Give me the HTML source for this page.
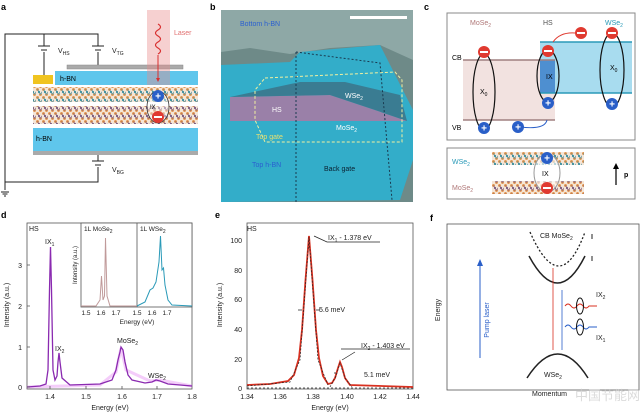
<!DOCTYPE html>
<html><head><meta charset="utf-8"><style>
html,body{margin:0;padding:0;background:#fff;}
svg{display:block;font-family:"Liberation Sans",sans-serif;}
</style></head><body>
<svg width="640" height="414" viewBox="0 0 640 414" xmlns="http://www.w3.org/2000/svg">
<defs>
<pattern id="lat" width="6" height="8" patternUnits="userSpaceOnUse">
<rect width="6" height="8" fill="#f4e6d8"/>
<circle cx="1.5" cy="1.5" r="1.4" fill="#e08a3c"/><circle cx="4.5" cy="6.5" r="1.4" fill="#e08a3c"/>
<path d="M1.5 1.5 L4.5 6.5 M4.5 6.5 L7.5 1.5" stroke="#5a9aa8" stroke-width="0.8"/>
<circle cx="3" cy="4" r="1.1" fill="#3a8fa0"/>
</pattern>
<pattern id="lat2" width="6" height="8" patternUnits="userSpaceOnUse">
<rect width="6" height="8" fill="#f4e6d8"/>
<circle cx="1.5" cy="1.5" r="1.4" fill="#e08a3c"/><circle cx="4.5" cy="6.5" r="1.4" fill="#e08a3c"/>
<path d="M1.5 1.5 L4.5 6.5 M4.5 6.5 L7.5 1.5" stroke="#8a6a8a" stroke-width="0.8"/>
<circle cx="3" cy="4" r="1.1" fill="#7a5a80"/>
</pattern>
</defs>
<g font-weight="bold" font-size="9"><text x="1" y="10">a</text><text x="210" y="10">b</text><text x="424" y="10">c</text><text x="1" y="218">d</text><text x="215" y="218">e</text><text x="430" y="221">f</text></g>

<!-- Panel a -->
<g stroke="#222" fill="none" stroke-width="1">
<path d="M5 190 V34 H98 V46 M44 34 V46 M44 52 V75 M98 52 V65"/>
<path d="M38 46 H50 M41 50 H47 M92 46 H104 M95 50 H101"/>
<path d="M98 155 V161 M98 167 V182 H5"/>
<path d="M92 161 H104 M95 165 H101"/>
<path d="M1 192 H9 M2.5 194 H7.5 M4 196 H6"/>
</g>
<g font-size="7" fill="#222"><text x="58" y="53">V<tspan font-size="5" dy="2">HS</tspan></text><text x="112" y="53">V<tspan font-size="5" dy="2">TG</tspan></text><text x="112" y="172">V<tspan font-size="5" dy="2">BG</tspan></text></g>
<rect x="67" y="65" width="116" height="4" fill="#aaa" stroke="#888" stroke-width=".5"/>
<rect x="55" y="71" width="143" height="14" fill="#5fc6ec"/>
<rect x="33" y="75" width="20" height="9" fill="#f0c420"/>
<text x="60" y="81" font-size="7">h-BN</text>
<rect x="33" y="87" width="165" height="15" fill="url(#lat)"/>
<rect x="33" y="106" width="165" height="18" fill="url(#lat2)"/>
<rect x="33" y="128" width="165" height="23" fill="#5fc6ec"/>
<rect x="33" y="151" width="165" height="4" fill="#aaa"/>
<text x="36" y="141" font-size="7">h-BN</text>
<rect x="147" y="10" width="23" height="75" fill="#e88a8a" opacity="0.4"/>
<path d="M158 24 q5 3 0 6 q-5 3 0 6 q5 3 0 6 q-5 3 0 6 q5 3 0 6" stroke="#d83030" fill="none" stroke-width="1.2"/>
<path d="M158 55 V80" stroke="#d83030" stroke-width="1"/><path d="M156 78 L158 82 L160 78Z" fill="#d83030"/>
<text x="174" y="35" font-size="7" fill="#e07070">Laser</text>
<ellipse cx="158" cy="107" rx="11" ry="16" fill="#fff" fill-opacity=".4" stroke="#333" stroke-width=".8"/>
<circle cx="158" cy="96" r="6" fill="#2a5fc8"/><text x="158" y="99.5" font-size="10" fill="#fff" text-anchor="middle" font-weight="bold">+</text>
<circle cx="158" cy="117" r="6" fill="#e03a30"/><rect x="154" y="116" width="8" height="2" fill="#fff"/>
<text x="150" y="109" font-size="6">IX</text>

<!-- Panel b -->
<rect x="221" y="10" width="192" height="192" fill="#8ea8a6"/>
<path d="M221 52 L250 48 L290 54 L330 48 L380 45 L413 60 V202 H221Z" fill="#6e8a88"/>
<path d="M221 65 L290 62 L300 52 L380 45 L413 110 L413 160 L400 200 L221 202Z" fill="#2cb0d0" opacity="0.9"/>
<path d="M230 97 L330 95 L375 110 L407 121 L230 121Z" fill="#9a80a8"/>
<path d="M230 97 L300 82 L345 82 L400 95 L407 121 L375 110 L330 95Z" fill="#3a7c92"/>
<path d="M265 78 L395 72 L402 80 L402 142 L265 142 L255 120 L255 90Z" fill="none" stroke="#f0f0a0" stroke-width="1" stroke-dasharray="3 2"/>
<path d="M296 52 L380 63 L392 200 M296 52 V202" fill="none" stroke="#1a3a50" stroke-width="1" stroke-dasharray="2 2"/>
<rect x="350" y="16" width="57" height="3" fill="#fff"/>
<g font-size="7"><text x="240" y="26" fill="#2a60d0">Bottom h-BN</text><text x="272" y="112" fill="#fff">HS</text><text x="345" y="98" fill="#fff">WSe<tspan font-size="5" dy="2">2</tspan></text><text x="336" y="130" fill="#fff">MoSe<tspan font-size="5" dy="2">2</tspan></text><text x="256" y="139" fill="#e8e070">Top gate</text><text x="252" y="167" fill="#2a60d0">Top h-BN</text><text x="324" y="171" fill="#0a2030">Back gate</text></g>

<!-- Panel c -->
<rect x="447" y="13" width="188" height="127" fill="#fff" stroke="#888"/>
<rect x="463" y="60" width="92" height="60" fill="#f2e2e0"/>
<rect x="540" y="42" width="92" height="51" fill="#a8dcef"/>
<rect x="540" y="60" width="15" height="33" fill="#4e8fd0"/>
<g stroke-width="1.5"><path d="M463 60 H555 M463 120 H555" stroke="#a08080"/><path d="M540 42 H632 M540 93 H632" stroke="#2a9ab8"/></g>
<g font-size="7"><text x="470" y="25" fill="#b07878">MoSe<tspan font-size="5" dy="2">2</tspan></text><text x="543" y="25" fill="#555">HS</text><text x="605" y="25" fill="#2a9ab8">WSe<tspan font-size="5" dy="2">2</tspan></text><text x="452" y="60">CB</text><text x="452" y="130">VB</text><text x="480" y="94">X<tspan font-size="5" dy="2">0</tspan></text><text x="546" y="79">IX</text><text x="610" y="70">X<tspan font-size="5" dy="2">0</tspan></text></g>
<g fill="none" stroke="#111" stroke-width="1.2"><ellipse cx="484" cy="92" rx="11" ry="38"/><ellipse cx="548" cy="76" rx="11" ry="26"/><ellipse cx="612" cy="70" rx="12" ry="37"/></g>
<path d="M575 33 Q560 32 553 42" stroke="#e03a30" fill="none"/><path d="M520 127 Q545 130 547 120" stroke="#2a5fc8" fill="none"/>
<g fill="#e03a30"><circle cx="484" cy="52" r="6"/><circle cx="548" cy="51" r="6"/><circle cx="581" cy="33" r="6"/><circle cx="612" cy="33" r="6"/></g>
<g fill="#2a5fc8"><circle cx="484" cy="128" r="6"/><circle cx="518" cy="127" r="6"/><circle cx="548" cy="103" r="6"/><circle cx="612" cy="104" r="6"/></g>
<g fill="#fff"><rect x="480" y="51" width="8" height="2"/><rect x="544" y="50" width="8" height="2"/><rect x="577" y="32" width="8" height="2"/><rect x="608" y="32" width="8" height="2"/></g>
<g font-size="10" fill="#fff" text-anchor="middle" font-weight="bold"><text x="484" y="131.5">+</text><text x="518" y="130.5">+</text><text x="548" y="106.5">+</text><text x="612" y="107.5">+</text></g>
<rect x="447" y="148" width="188" height="51" fill="#fff" stroke="#888"/>
<rect x="492" y="152" width="92" height="13" fill="url(#lat)"/><rect x="492" y="181" width="92" height="13" fill="url(#lat2)"/>
<ellipse cx="547" cy="173" rx="13" ry="19" fill="#fff" fill-opacity=".6" stroke="#999"/>
<circle cx="547" cy="158" r="6" fill="#2a5fc8"/><text x="547" y="161.5" font-size="10" fill="#fff" text-anchor="middle" font-weight="bold">+</text>
<circle cx="547" cy="188" r="6" fill="#e03a30"/><rect x="543" y="187" width="8" height="2" fill="#fff"/>
<g font-size="7"><text x="452" y="164" fill="#2a9ab8">WSe<tspan font-size="5" dy="2">2</tspan></text><text x="452" y="190" fill="#b07878">MoSe<tspan font-size="5" dy="2">2</tspan></text><text x="542" y="176">IX</text><text x="624" y="177" font-weight="bold">p</text></g>
<path d="M616 185 V167" stroke="#111" stroke-width="1.3"/><path d="M613 169 L616 163 L619 169Z"/>

<!-- Panel d -->
<rect x="27" y="223" width="165" height="166" fill="#fff" stroke="#555" stroke-width=".8"/>
<path d="M27 387 L100 385 L116 372 L121 348 L126 370 L150 381 L160 380 L192 386" fill="none" stroke="#e070f0" stroke-width="3" opacity=".35"/>
<path d="M27 387 L40 386 L46 384 L48 370 L49.5 290 L50.5 247 L51.5 290 L53 370 L55 380 L57 376 L58 362 L59 353 L60 362 L62 378 L70 385 L100 384 L112 380 L116 370 L118 360 L120 352 L121 347 L123 350 L125 362 L128 375 L132 380 L145 383 L152 382 L156 380 L160 381 L168 384 L192 386" fill="none" stroke="#8a2ab0" stroke-width="1.3"/>
<g font-size="7" fill="#222">
<text x="29" y="231">HS</text><text x="45" y="244">IX<tspan font-size="5" dy="2">1</tspan></text><text x="55" y="351">IX<tspan font-size="5" dy="2">2</tspan></text><text x="117" y="343">MoSe<tspan font-size="5" dy="2">2</tspan></text><text x="148" y="378">WSe<tspan font-size="5" dy="2">2</tspan></text>
<g text-anchor="end"><text x="22" y="390">0</text><text x="22" y="350">1</text><text x="22" y="309">2</text><text x="22" y="268">3</text></g>
<g text-anchor="middle"><text x="50" y="399">1.4</text><text x="86" y="399">1.5</text><text x="122" y="399">1.6</text><text x="157" y="399">1.7</text><text x="192" y="399">1.8</text><text x="110" y="410">Energy (eV)</text></g>
<text transform="translate(9 305) rotate(-90)" text-anchor="middle">Intensity (a.u.)</text>
</g>
<g stroke="#555" stroke-width=".8"><path d="M27 387h3M27 347h3M27 306h3M27 265h3M50 389v-3M86 389v-3M122 389v-3M157 389v-3"/></g>
<rect x="81" y="223" width="111" height="84" fill="#fff" stroke="#555" stroke-width=".8"/>
<line x1="137" y1="223" x2="137" y2="307" stroke="#555" stroke-width=".8"/>
<path d="M81 306 L96 306 L100 300 L101.5 276 L103 300 L104.5 296 L105.5 238 L107 296 L110 306 L137 306" fill="none" stroke="#c09a9a" stroke-width="1"/>
<path d="M137 306 L145 302 L150 290 L153 288 L156 282 L159 262 L160.5 236 L162 270 L163.5 268 L165 285 L168 300 L172 305 L192 306" fill="none" stroke="#2a9ab8" stroke-width="1"/>
<g font-size="6.5" fill="#222"><text x="84" y="231">1L MoSe<tspan font-size="5" dy="2">2</tspan></text><text x="140" y="231">1L WSe<tspan font-size="5" dy="2">2</tspan></text>
<g text-anchor="middle"><text x="86" y="315">1.5</text><text x="101" y="315">1.6</text><text x="116" y="315">1.7</text><text x="137" y="315">1.5</text><text x="152" y="315">1.6</text><text x="167" y="315">1.7</text><text x="137" y="324">Energy (eV)</text></g>
<text transform="translate(77 265) rotate(-90)" text-anchor="middle" font-size="6">Intensity (a.u.)</text></g>

<!-- Panel e -->
<rect x="247" y="223" width="166" height="166" fill="#fff" stroke="#555" stroke-width=".8"/>
<path d="M247 388 H413" stroke="#222" stroke-width=".8" stroke-dasharray="2 2"/>
<path d="M247 385 L270 384 L288 381 L294 375 L299 358 L302 330 L305.5 280 L309 236 L312.5 280 L316 330 L319 358 L323 376 L328 384 L332 383 L335 378 L338 368 L340 362 L342 367 L345 378 L350 385 L413 387" fill="none" stroke="#d83020" stroke-width="1.8"/>
<path d="M247 386 L290 382 L300 360 L309 237 L318 360 L328 385 M330 387 L336 376 L340 363 L345 378 L352 387" fill="none" stroke="#222" stroke-width=".7" stroke-dasharray="2 1.5"/>
<g stroke="#222" stroke-width=".7" fill="none"><path d="M314 236 L327 242 H380 M355 352 L342 360 M341 349 H410 M298 310 H302 M316 310 H320 M334 373 H336"/></g>
<g font-size="7" fill="#222">
<text x="247" y="231" font-size="7">HS</text>
<text x="328" y="240">IX<tspan font-size="5" dy="2">1</tspan><tspan dy="-2"> - 1.378 eV</tspan></text>
<text x="319" y="312">5.6 meV</text>
<text x="361" y="348">IX<tspan font-size="5" dy="2">2</tspan><tspan dy="-2"> - 1.403 eV</tspan></text>
<text x="364" y="377">5.1 meV</text>
<g text-anchor="end"><text x="242" y="391">0</text><text x="242" y="362">20</text><text x="242" y="332">40</text><text x="242" y="302">60</text><text x="242" y="273">80</text><text x="242" y="243">100</text></g>
<g text-anchor="middle"><text x="247" y="399">1.34</text><text x="280" y="399">1.36</text><text x="313" y="399">1.38</text><text x="347" y="399">1.40</text><text x="380" y="399">1.42</text><text x="413" y="399">1.44</text><text x="330" y="410">Energy (eV)</text></g>
<text transform="translate(222 305) rotate(-90)" text-anchor="middle">Intensity (a.u.)</text>
</g>

<!-- Panel f -->
<rect x="447" y="224" width="192" height="166" fill="#fff" stroke="#555" stroke-width=".8"/>
<path d="M530 232 Q560 300 585 232" fill="none" stroke="#222" stroke-width="1.3" stroke-dasharray="2 2"/>
<path d="M529 256 Q558 310 585 256" fill="none" stroke="#222" stroke-width="1.5"/>
<path d="M527 378 Q558 330 588 378" fill="none" stroke="#222" stroke-width="1.5"/>
<path d="M553 268 V350" stroke="#d83020" stroke-width=".8"/><path d="M562 290 V350" stroke="#2a5fc8" stroke-width=".8"/>
<path d="M480 358 V264" stroke="#2a5fc8" stroke-width="1"/><path d="M477 266 L480 259 L483 266Z" fill="#2a5fc8"/>
<path d="M565 306 q3 -4 6 0 q3 4 6 0 q3 -4 6 0 q3 4 6 0 h8" fill="none" stroke="#d83020" stroke-width="1"/>
<path d="M565 327 q3 -4 6 0 q3 4 6 0 q3 -4 6 0 q3 4 6 0 h8" fill="none" stroke="#2a5fc8" stroke-width="1"/>
<ellipse cx="580" cy="306" rx="3.5" ry="8" fill="none" stroke="#111"/><ellipse cx="580" cy="327" rx="3.5" ry="8" fill="none" stroke="#111"/>
<path d="M592 239 v-5 M592 256 v5" stroke="#222"/>
<g font-size="7" fill="#222"><text x="540" y="238">CB MoSe<tspan font-size="5" dy="2">2</tspan></text><text x="596" y="297">IX<tspan font-size="5" dy="2">2</tspan></text><text x="596" y="340">IX<tspan font-size="5" dy="2">1</tspan></text><text x="544" y="377">WSe<tspan font-size="5" dy="2">2</tspan></text><text x="532" y="396">Momentum</text>
<text transform="translate(440 310) rotate(-90)" text-anchor="middle">Energy</text>
<text transform="translate(489 320) rotate(-90)" text-anchor="middle" fill="#2a5fc8">Pump laser</text></g>
<text x="575" y="400" font-size="13" fill="#ccc" opacity=".7">中国节能网</text>
</svg>
</body></html>
